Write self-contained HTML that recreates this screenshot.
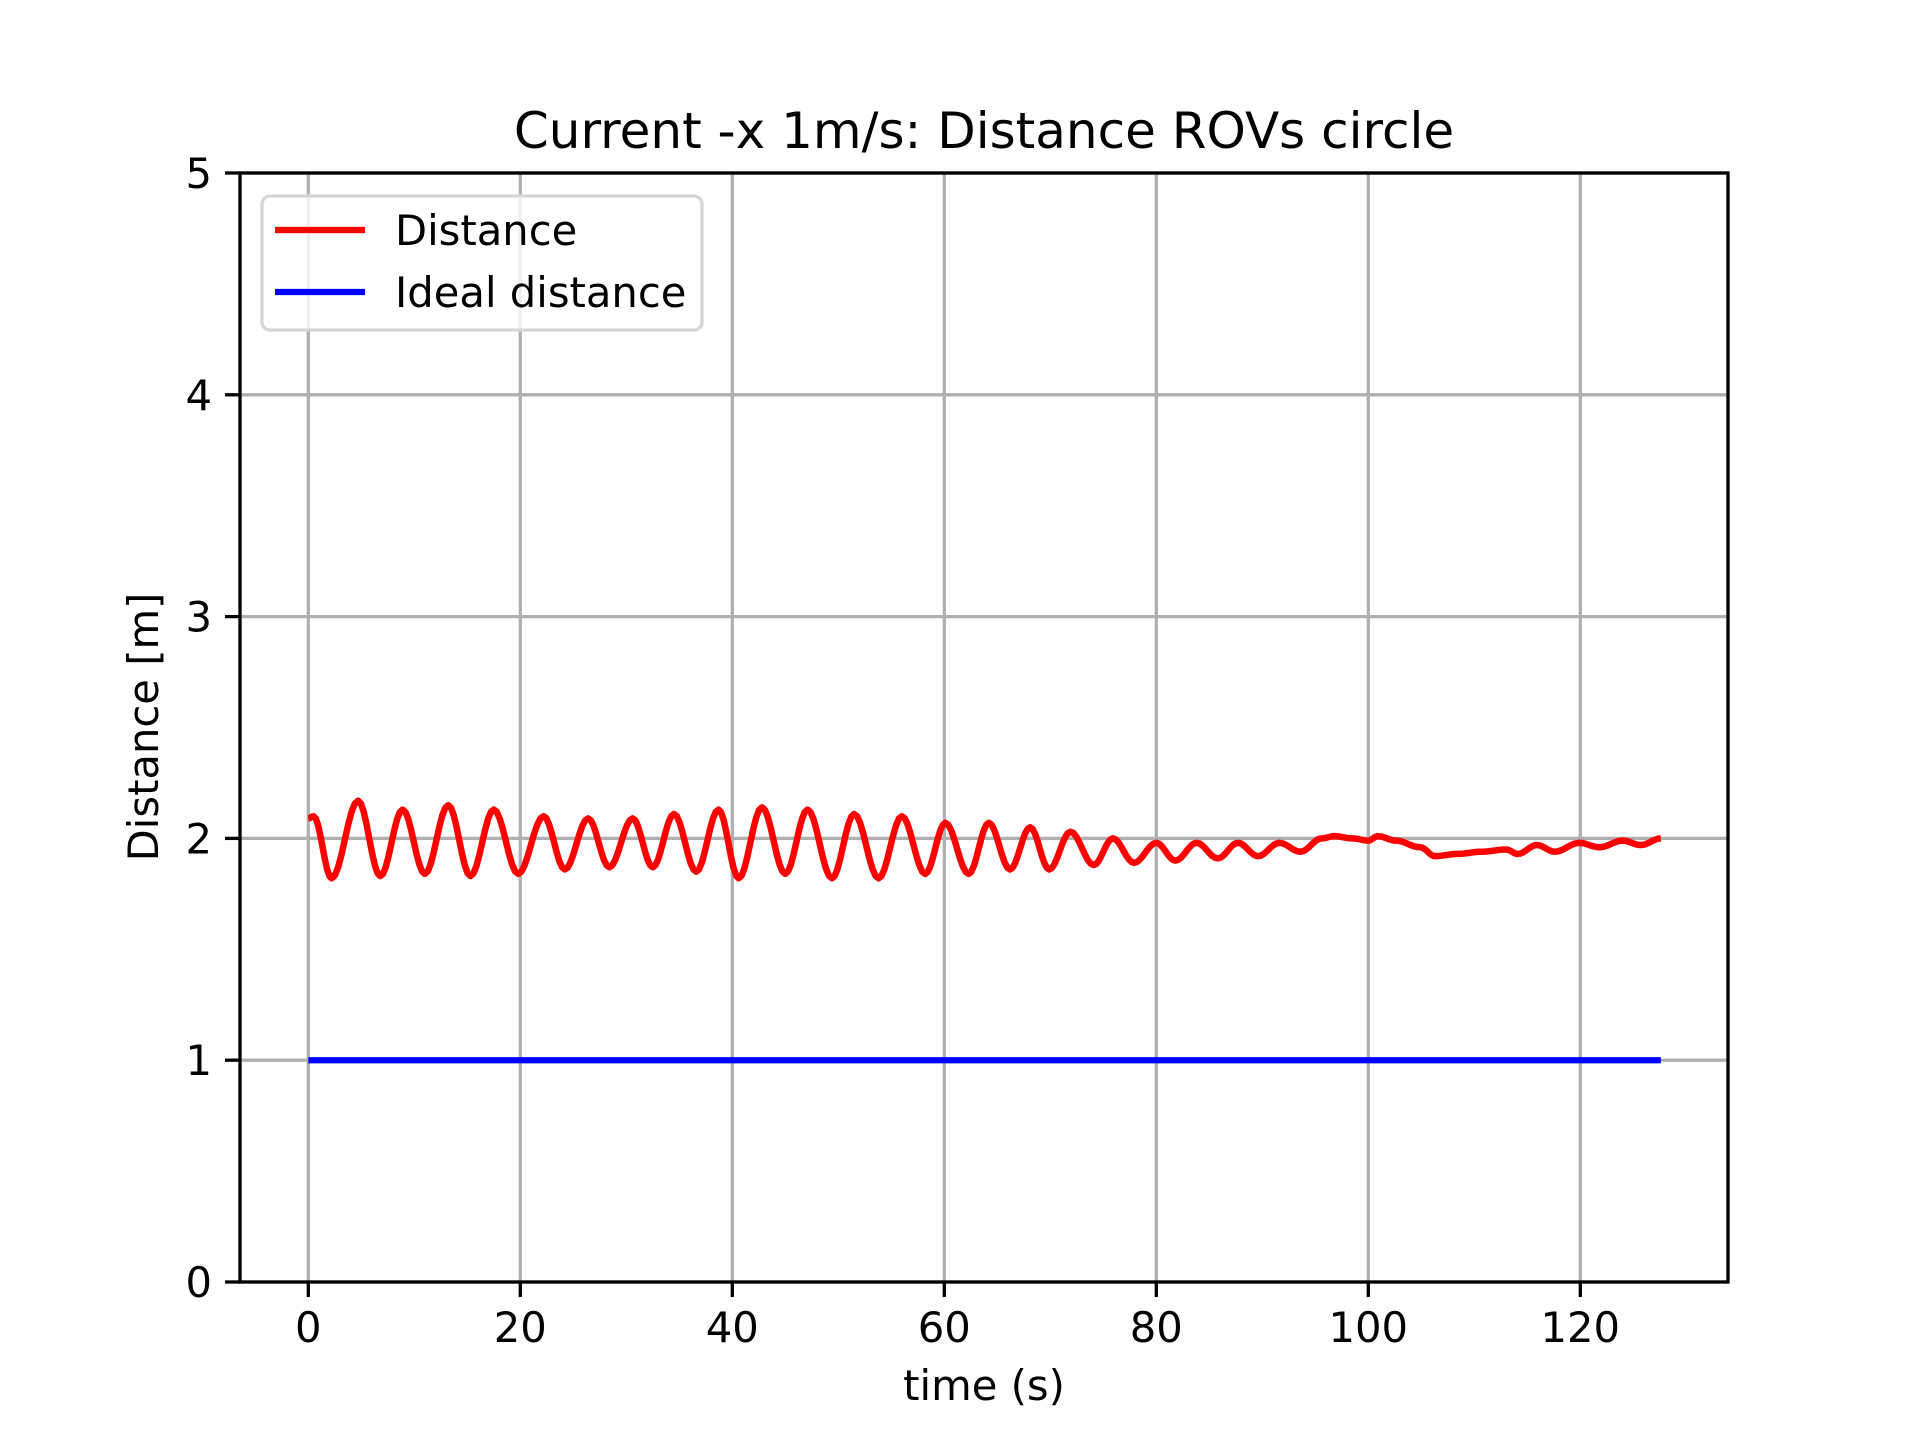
<!DOCTYPE html>
<html><head><meta charset="utf-8"><style>
html,body{margin:0;padding:0;background:#fff;}
svg{display:block;font-family:"DejaVu Sans","Liberation Sans",sans-serif;}
</style></head><body>
<svg id="chart" width="1920" height="1440" viewBox="0 0 1920 1440">
<rect width="1920" height="1440" fill="#fff"/>
<g id="grid"></g>
<g id="series"></g>
<rect x="240" y="173" width="1488" height="1109" fill="none" stroke="#000" stroke-width="3.3"/>
<g id="ticks"></g>
<text x="984" y="148" font-size="50" text-anchor="middle">Current -x 1m/s: Distance ROVs circle</text>
<text x="984" y="1400" font-size="41.7" text-anchor="middle">time (s)</text>
<text transform="translate(158,727) rotate(-90)" font-size="41.7" text-anchor="middle">Distance [m]</text>
<g>
<rect x="262" y="196" width="440" height="134" rx="8" fill="#fff" fill-opacity="0.8" stroke="#d6d6d6" stroke-width="3.3"/>
<line x1="275" y1="230" x2="365" y2="230" stroke="#ff0000" stroke-width="6.25"/>
<text x="395" y="245" font-size="41.7">Distance</text>
<line x1="275" y1="292" x2="365" y2="292" stroke="#0000ff" stroke-width="6.25"/>
<text x="395" y="307" font-size="41.7">Ideal distance</text>
</g>
</svg>
<script>
const xTicks=[0,20,40,60,80,100,120];
const yTicks=[0,1,2,3,4,5];
const distT=[0,0.5,2.2,4.7,6.8,8.9,11,13.2,15.3,17.5,19.8,22.2,24.2,26.4,28.4,30.6,32.5,34.5,36.6,38.7,40.6,42.8,45,47.1,49.4,51.5,53.8,56,58.2,60.1,62.3,64.2,66.2,68.1,69.9,71.9,74.1,75.9,77.9,80,81.8,83.8,85.8,87.7,89.6,91.6,93.6,95.6,96.8,98.5,100,100.9,102.6,104.9,106.3,108.4,110.7,113,114.1,115.9,117.6,119.9,121.8,124,125.7,127.6];
const distV=[2.09,2.1,1.82,2.17,1.83,2.13,1.84,2.15,1.83,2.13,1.84,2.10,1.86,2.09,1.87,2.09,1.87,2.11,1.85,2.13,1.82,2.14,1.84,2.13,1.82,2.11,1.82,2.10,1.84,2.07,1.84,2.07,1.86,2.05,1.86,2.03,1.88,2.00,1.89,1.98,1.90,1.98,1.91,1.98,1.92,1.98,1.94,2.00,2.01,2.00,1.99,2.01,1.99,1.96,1.92,1.93,1.94,1.95,1.93,1.97,1.94,1.98,1.96,1.99,1.97,2.00];
const idealT=[0,127.6];
const idealV=[1,1];
const NS='http://www.w3.org/2000/svg';
const X=t=>308.3+t*10.6;
const Y=v=>1282-v*221.8;
const grid=document.getElementById('grid'),ticks=document.getElementById('ticks'),series=document.getElementById('series');
function mk(tag,attrs,parent){const e=document.createElementNS(NS,tag);for(const k in attrs)e.setAttribute(k,attrs[k]);parent.appendChild(e);return e;}
xTicks.forEach(t=>{
 const g=mk('line',{x1:X(t),x2:X(t),y1:173,y2:1282,stroke:'#b0b0b0','stroke-width':3.3},grid);
 
 
 const tk=mk('line',{x1:X(t),x2:X(t),y1:1282,y2:1297,stroke:'#000','stroke-width':3.3},ticks);
 
 
 const tx=mk('text',{x:X(t),y:1342,'font-size':41.7,'text-anchor':'middle'},ticks);
 tx.textContent=t;
 
 
});
yTicks.forEach(v=>{
 const g=mk('line',{x1:240,x2:1728,y1:Y(v),y2:Y(v),stroke:'#b0b0b0','stroke-width':3.3},grid);
 
 
 const tk=mk('line',{x1:225,x2:240,y1:Y(v),y2:Y(v),stroke:'#000','stroke-width':3.3},ticks);
 
 
 const tx=mk('text',{x:212,y:Y(v)+15,'font-size':41.7,'text-anchor':'end'},ticks);
 tx.textContent=v;
 
 
});
let d='M'+X(distT[0])+','+Y(distV[0]);
for(let i=1;i<distT.length;i++){
 const t0=distT[i-1],t1=distT[i],v0=distV[i-1],v1=distV[i];
 for(let k=1;k<=8;k++){const f=k/8,w=(1-Math.cos(Math.PI*f))/2;d+=' L'+X(t0+(t1-t0)*f).toFixed(2)+','+Y(v0+(v1-v0)*w).toFixed(2);}
}
const ideal=mk('polyline',{points:idealT.map((t,i)=>X(t)+','+Y(idealV[i])).join(' '),fill:'none',stroke:'#0000ff','stroke-width':6.25},series);


const dist=mk('path',{d:d,fill:'none',stroke:'#ff0000','stroke-width':6.5,'stroke-linejoin':'round'},series);


</script>
</body></html>
